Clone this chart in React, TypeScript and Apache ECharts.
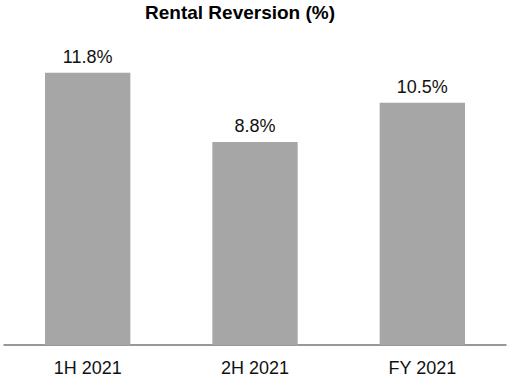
import React, { useEffect, useRef } from "react";
import * as echarts from "echarts";

const categories = ["1H 2021", "2H 2021", "FY 2021"];
const values = [11.8, 8.8, 10.5];
const titleText = "Rental Reversion (%)";

export default function App() {
  const ref = useRef<HTMLDivElement>(null);
  useEffect(() => {
    const chart = echarts.init(ref.current!, null, { renderer: "svg" });
    chart.setOption({
      animation: false,
      title: {
        text: titleText,
        left: 140,
        top: -2,
        textStyle: { fontFamily: "Liberation Sans", fontWeight: "bold", fontSize: 19, color: "#000" },
      },
      grid: { left: 4, right: 4, top: 22, bottom: 32, containLabel: false },
      xAxis: {
        type: "category",
        data: categories,
        axisLine: { lineStyle: { color: "#777", width: 1.5 } },
        axisTick: { show: false },
        axisLabel: { fontFamily: "Liberation Sans", fontSize: 18, color: "#111", margin: 14 },
      },
      yAxis: { type: "value", min: 0, max: 14, show: false, splitLine: { show: false } },
      series: [
        {
          type: "bar",
          data: values,
          barWidth: "51%",
          itemStyle: { color: "#a6a6a6" },
          label: {
            show: true,
            position: "top",
            distance: 7,
            formatter: (p: any) => p.value.toFixed(1) + "%",
            fontFamily: "Liberation Sans",
            fontSize: 18,
            color: "#111",
          },
        },
      ],
    });
    return () => chart.dispose();
  }, []);
  return <div ref={ref} style={{ position: "absolute", left: 0, top: 0, width: 510, height: 377 }} />;
}
